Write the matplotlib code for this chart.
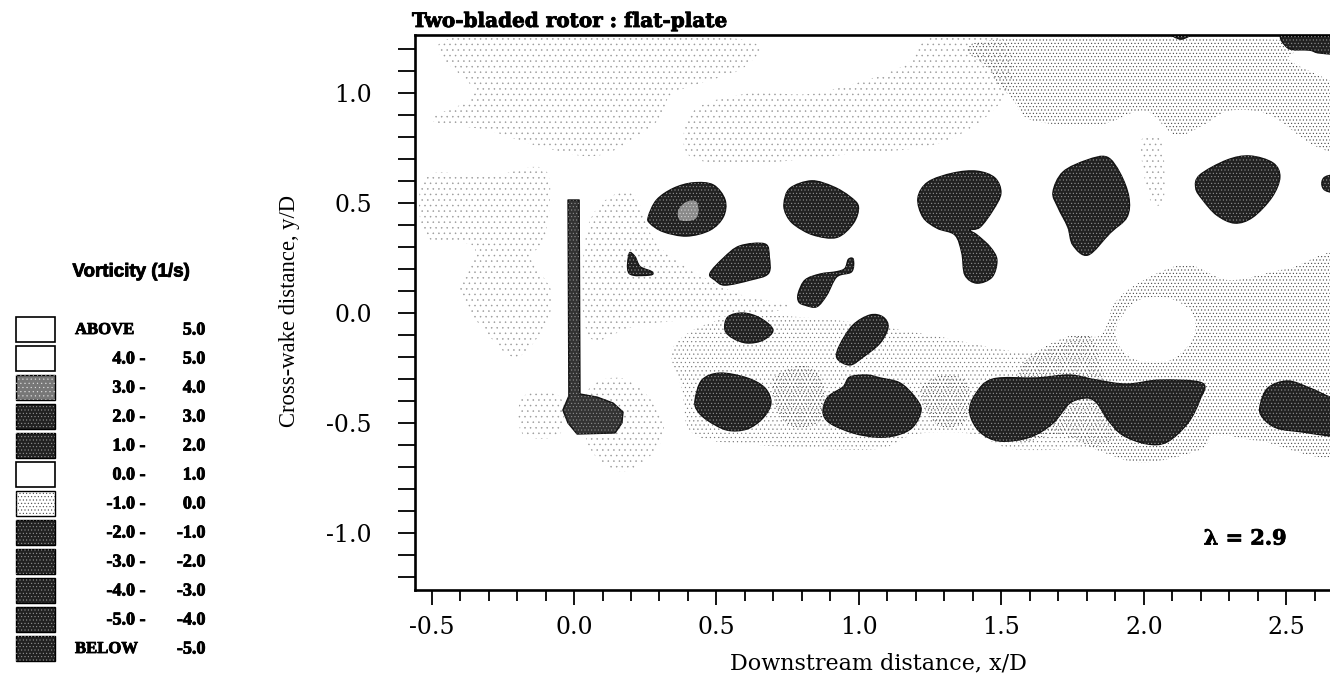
import matplotlib
matplotlib.use("Agg")
import matplotlib.pyplot as plt
import matplotlib.patheffects as pe
from matplotlib.path import Path
from matplotlib.patches import PathPatch, Polygon, Rectangle
from matplotlib.ticker import MultipleLocator

plt.rcParams['hatch.linewidth'] = 0.35

# outlines of the dark vortex patches (x/D, y/D)
blob_a = [(0.261,0.438),(0.290,0.514),(0.349,0.567),(0.419,0.592),(0.489,0.582),(0.530,0.514),(0.524,0.438),(0.477,0.377),(0.395,0.350),(0.313,0.370),(0.267,0.408)]
blob_b = [(0.737,0.498),(0.758,0.567),(0.834,0.601),(0.910,0.574),(0.968,0.529),(0.998,0.483),(0.980,0.408),(0.922,0.344),(0.840,0.355),(0.775,0.400),(0.746,0.445)]
blob_c = [(0.194,0.271),(0.214,0.256),(0.232,0.211),(0.273,0.188),(0.267,0.173),(0.194,0.180)]
blob_d = [(0.477,0.180),(0.524,0.249),(0.582,0.305),(0.670,0.314),(0.685,0.256),(0.682,0.180),(0.618,0.150),(0.530,0.127),(0.495,0.150)]
blob_e = [(0.787,0.089),(0.811,0.150),(0.863,0.177),(0.922,0.188),(0.951,0.203),(0.963,0.244),(0.980,0.244),(0.974,0.188),(0.922,0.165),(0.887,0.082),(0.852,0.029),(0.811,0.036),(0.789,0.051)]
blob_f = [(0.530,-0.077),(0.558,-0.114),(0.607,-0.136),(0.663,-0.123),(0.698,-0.077),(0.653,-0.023),(0.593,0.0),(0.540,-0.018)]
blob_g = [(0.979,-0.055),(1.039,-0.009),(1.084,-0.018),(1.102,-0.064),(1.074,-0.136),(1.014,-0.200),(0.968,-0.236),(0.923,-0.205),(0.933,-0.145)]
blob_i = [(0.425,-0.395),(0.449,-0.305),(0.512,-0.273),(0.607,-0.295),(0.670,-0.341),(0.691,-0.409),(0.663,-0.477),(0.607,-0.527),(0.537,-0.532),(0.467,-0.486),(0.432,-0.441)]
blob_j = [(0.874,-0.450),(0.891,-0.382),(0.944,-0.336),(0.968,-0.291),(1.028,-0.282),(1.074,-0.295),(1.144,-0.318),(1.196,-0.382),(1.218,-0.441),(1.189,-0.518),(1.133,-0.555),(1.063,-0.564),(0.979,-0.545),(0.898,-0.500)]
blob_k = [(1.389,-0.455),(1.407,-0.373),(1.470,-0.300),(1.625,-0.295),(1.740,-0.282),(1.835,-0.305),(1.940,-0.323),(2.056,-0.305),(2.204,-0.318),(2.196,-0.395),(2.154,-0.500),(2.081,-0.586),(2.011,-0.595),(1.926,-0.555),(1.874,-0.486),(1.835,-0.409),(1.800,-0.386),(1.740,-0.409),(1.681,-0.500),(1.600,-0.564),(1.495,-0.582),(1.425,-0.541)]
blob_l = [(2.407,-0.427),(2.435,-0.341),(2.505,-0.309),(2.582,-0.341),(2.653,-0.382),(2.72,-0.41),(2.72,-0.565),(2.653,-0.559),(2.558,-0.541),(2.467,-0.523),(2.418,-0.477)]
blob_m = [(1.207,0.523),(1.242,0.595),(1.330,0.636),(1.414,0.645),(1.477,0.614),(1.498,0.545),(1.470,0.468),(1.425,0.391),(1.389,0.377),(1.414,0.355),(1.460,0.300),(1.484,0.241),(1.467,0.164),(1.414,0.136),(1.372,0.173),(1.361,0.273),(1.337,0.355),(1.274,0.386),(1.225,0.436)]
blob_n = [(1.681,0.550),(1.716,0.641),(1.800,0.695),(1.870,0.709),(1.916,0.636),(1.947,0.527),(1.940,0.436),(1.881,0.364),(1.804,0.264),(1.751,0.309),(1.733,0.391),(1.698,0.482)]
blob_o = [(2.182,0.568),(2.196,0.627),(2.291,0.695),(2.372,0.714),(2.453,0.682),(2.477,0.618),(2.449,0.527),(2.382,0.436),(2.319,0.409),(2.256,0.445),(2.207,0.514)]
blob_p = [(2.635,0.618),(2.72,0.627),(2.72,0.545),(2.635,0.559)]
blob_q = [(2.495,1.28),(2.72,1.28),(2.72,1.182),(2.618,1.182),(2.582,1.195),(2.505,1.205)]
blob_r = [(2.09,1.275),(2.17,1.275),(2.13,1.245)]
blobs = [blob_a, blob_b, blob_c, blob_d, blob_e, blob_f, blob_g, blob_i, blob_j, blob_k, blob_l, blob_m, blob_n, blob_o, blob_p, blob_q, blob_r]

# blade plus root patch, corners stay sharp
blade = [(-0.021,0.514),(0.018,0.514),(0.021,-0.368),(0.081,-0.382),(0.137,-0.409),(0.172,-0.450),(0.168,-0.500),(0.144,-0.545),(0.011,-0.550),(-0.021,-0.500),(-0.039,-0.441),(-0.018,-0.377)]
core_a = [(0.366,0.468),(0.395,0.506),(0.430,0.506),(0.436,0.453),(0.419,0.423),(0.372,0.423)]

# stippled -1..0 regions
sparse_regions = [
    [(-0.43,1.25),(0.55,1.25),(0.60,1.12),(0.35,1.00),(0.30,0.88),(0.10,0.72),(-0.10,0.75),(-0.30,0.83),(-0.50,0.88),(-0.35,1.00)],
    [(-0.52,0.62),(-0.30,0.62),(-0.10,0.65),(-0.10,0.35),(-0.15,0.25),(-0.08,0.10),(-0.10,-0.05),(-0.20,-0.20),(-0.30,-0.10),(-0.40,0.10),(-0.35,0.30),(-0.52,0.35)],
    [(0.62,1.00),(0.85,1.00),(1.15,1.12),(1.25,1.25),(1.50,1.25),(1.52,1.00),(1.30,0.78),(0.95,0.72),(0.60,0.68),(0.40,0.72),(0.42,0.92)],
    [(0.05,0.40),(0.20,0.55),(0.30,0.30),(0.55,0.10),(0.75,0.02),(0.25,-0.05),(0.05,-0.10)],
    [(0.05,-0.35),(0.18,-0.30),(0.30,-0.45),(0.30,-0.60),(0.17,-0.72),(0.05,-0.60)],
    [(-0.18,-0.38),(-0.05,-0.38),(-0.05,-0.55),(-0.18,-0.55)],
    [(1.99,0.78),(2.06,0.78),(2.07,0.52),(2.02,0.52)],
]
medium_region = [(0.35,-0.15),(0.55,-0.02),(0.90,-0.03),(1.25,-0.10),(1.60,-0.18),(1.80,-0.10),(1.85,-0.25),(1.90,-0.50),(1.85,-0.60),(1.55,-0.62),(1.40,-0.55),(1.20,-0.55),(1.05,-0.62),(0.65,-0.60),(0.42,-0.55),(0.38,-0.35)]
dense_top = [(1.46,1.24),(2.51,1.24),(2.51,1.15),(2.72,0.99),(2.72,0.74),(2.60,0.76),(2.44,0.90),(2.30,0.92),(2.21,0.855),(2.11,0.81),(2.00,0.92),(1.84,0.855),(1.61,0.875),(1.54,0.97),(1.46,1.10)]
dense_low = [(1.62,-0.18),(1.75,-0.10),(1.85,-0.10),(1.90,0.05),(2.00,0.15),(2.15,0.22),(2.30,0.15),(2.50,0.20),(2.72,0.22),(2.72,-0.60),(2.40,-0.58),(2.25,-0.55),(2.20,-0.62),(2.00,-0.68),(1.85,-0.63),(1.70,-0.55),(1.55,-0.58),(1.55,-0.30)]
dense_gaps = [
    [(0.70,-0.30),(0.80,-0.24),(0.87,-0.30),(0.87,-0.48),(0.78,-0.52),(0.72,-0.46)],
    [(1.22,-0.34),(1.30,-0.28),(1.38,-0.32),(1.38,-0.48),(1.30,-0.52),(1.24,-0.46)],
]
hole = [(1.90,-0.08),(1.97,0.05),(2.08,0.07),(2.17,0.00),(2.17,-0.12),(2.08,-0.22),(1.95,-0.20)]

legend_low = ['ABOVE', '4.0 -', '3.0 -', '2.0 -', '1.0 -', '0.0 -', '-1.0 -', '-2.0 -', '-3.0 -', '-4.0 -', '-5.0 -', 'BELOW']
legend_high = ['5.0', '5.0', '4.0', '3.0', '2.0', '1.0', '0.0', '-1.0', '-2.0', '-3.0', '-4.0', '-5.0']
legend_fill = ['white', 'white', 'mid', 'dark', 'dark', 'white', 'light', 'dark', 'dark', 'dark', 'dark', 'dark']


def smooth_path(pts):
    # closed curve through the outline points
    n = len(pts)
    verts = [pts[0]]
    codes = [Path.MOVETO]
    for i in range(n):
        p0, p1, p2, p3 = pts[i - 1], pts[i], pts[(i + 1) % n], pts[(i + 2) % n]
        c1 = (p1[0] + (p2[0] - p0[0]) / 6, p1[1] + (p2[1] - p0[1]) / 6)
        c2 = (p2[0] - (p3[0] - p1[0]) / 6, p2[1] - (p3[1] - p1[1]) / 6)
        verts += [c1, c2, p2]
        codes += [Path.CURVE4] * 3
    return Path(verts, codes)


fig = plt.figure(figsize=(13.3, 6.78), dpi=100)
ax = fig.add_axes([415 / 1330, 1 - 590 / 678, 915 / 1330, 555 / 678])

for reg in sparse_regions:
    ax.add_patch(PathPatch(smooth_path(reg), fill=False, hatch='...', edgecolor='#999999', lw=0, zorder=1))
ax.add_patch(PathPatch(smooth_path(medium_region), fill=False, hatch='....', edgecolor='#777777', lw=0, zorder=1))
for reg in [dense_top, dense_low] + dense_gaps:
    ax.add_patch(PathPatch(smooth_path(reg), fill=False, hatch='.....', edgecolor='#333333', lw=0, zorder=1.2))
ax.add_patch(PathPatch(smooth_path(hole), facecolor='white', lw=0, zorder=1.5))

for b in blobs:
    p = smooth_path(b)
    ax.add_patch(PathPatch(p, facecolor='#222222', edgecolor='#111111', lw=1, zorder=2))
    ax.add_patch(PathPatch(p, fill=False, hatch='.....', edgecolor='#a0a0a0', lw=0, zorder=3))
ax.add_patch(Polygon(blade, facecolor='#333333', edgecolor='#111111', lw=1, joinstyle='round', zorder=2))
ax.add_patch(Polygon(blade, fill=False, hatch='.....', edgecolor='#999999', lw=0, zorder=3))
ax.add_patch(PathPatch(smooth_path(core_a), facecolor='#8a8a8a', hatch='.....', edgecolor='#dddddd', lw=0, zorder=4))

ax.set_xlim(-0.558, 2.653)
ax.set_ylim(-1.259, 1.264)
ax.spines['right'].set_visible(False)
for s in ['left', 'bottom', 'top']:
    ax.spines[s].set_linewidth(1.9)
ax.xaxis.set_minor_locator(MultipleLocator(0.1))
ax.yaxis.set_minor_locator(MultipleLocator(0.1))
ax.set_xticks([-0.5, 0.0, 0.5, 1.0, 1.5, 2.0, 2.5])
ax.set_xticklabels(['-0.5', '0.0', '0.5', '1.0', '1.5', '2.0', '2.5'], family='DejaVu Serif', fontsize=17)
ax.set_yticks([-1.0, -0.5, 0.0, 0.5, 1.0])
ax.set_yticklabels(['-1.0', '-0.5', '0.0', '0.5', '1.0'], family='DejaVu Serif', fontsize=17)
ax.tick_params(axis='x', which='major', direction='out', length=11, width=1.3, pad=8)
ax.tick_params(axis='x', which='minor', direction='out', length=8, width=1.3)
ax.tick_params(axis='y', which='both', direction='out', length=12, width=1.3)
ax.tick_params(axis='y', which='major', pad=19)

heavy = [pe.withStroke(linewidth=0.6, foreground='black')]
fig.text(878 / 1330, 1 - 663 / 678, 'Downstream distance, x/D', family='DejaVu Serif', fontsize=16, ha='center', va='center')
fig.text(290 / 1330, 1 - 311 / 678, 'Cross-wake distance, y/D', family='Liberation Serif', fontsize=16.3, rotation=90, ha='center', va='center')
fig.text(412 / 1330, 1 - 21 / 678, 'Two-bladed rotor : flat-plate', family='DejaVu Serif', weight='bold', fontsize=14.4, ha='left', va='center', path_effects=heavy)
ax.text(2.21, -1.025, 'λ = 2.9', family='DejaVu Serif', weight='bold', fontsize=15, ha='left', va='center', path_effects=heavy)

# legend drawn in pixel-like coordinates
leg = fig.add_axes([0, 0, 0.2, 1])
leg.set_xlim(0, 266)
leg.set_ylim(678, 0)
leg.axis('off')
leg.text(131, 272, 'Vorticity (1/s)', family='Liberation Sans', weight='bold', fontsize=13.5, ha='center', va='center', path_effects=heavy)
for i in range(len(legend_low)):
    y = 317 + i * 29
    kind = legend_fill[i]
    if kind == 'white':
        leg.add_patch(Rectangle((16, y), 39, 25, facecolor='white', edgecolor='black', lw=1.2))
    elif kind == 'dark':
        leg.add_patch(Rectangle((16, y), 39, 25, facecolor='#222222', edgecolor='black', lw=1))
        leg.add_patch(Rectangle((16, y), 39, 25, fill=False, hatch='.....', edgecolor='#a0a0a0', lw=0))
    elif kind == 'mid':
        leg.add_patch(Rectangle((16, y), 39, 25, facecolor='#777777', edgecolor='black', lw=1))
        leg.add_patch(Rectangle((16, y), 39, 25, fill=False, hatch='....', edgecolor='#dddddd', lw=0))
    else:
        leg.add_patch(Rectangle((16, y), 39, 25, facecolor='white', edgecolor='black', lw=1))
        leg.add_patch(Rectangle((16, y), 39, 25, fill=False, hatch='.....', edgecolor='#333333', lw=0))
    if legend_low[i] in ('ABOVE', 'BELOW'):
        leg.text(75, y + 13, legend_low[i], family='Liberation Serif', weight='bold', fontsize=12, ha='left', va='center', path_effects=heavy)
    else:
        leg.text(145, y + 13, legend_low[i], family='Liberation Serif', weight='bold', fontsize=13, ha='right', va='center', path_effects=heavy)
    leg.text(205, y + 13, legend_high[i], family='Liberation Serif', weight='bold', fontsize=13, ha='right', va='center', path_effects=heavy)

fig.savefig('out.png', dpi=100)
